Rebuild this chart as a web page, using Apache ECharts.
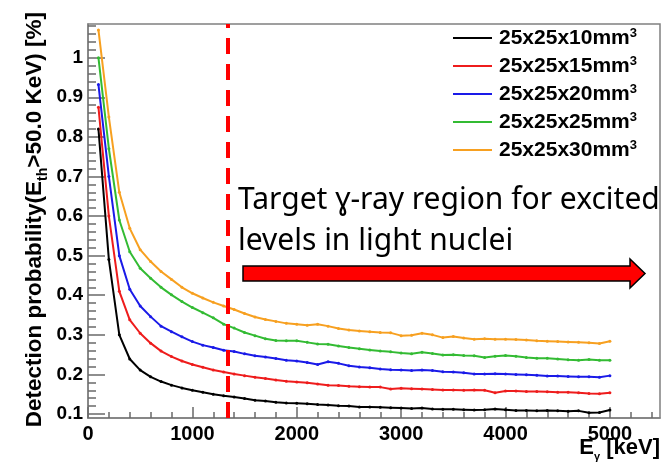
<!DOCTYPE html>
<html>
<head>
<meta charset="utf-8">
<script src="https://cdn.jsdelivr.net/npm/echarts@6/dist/echarts.min.js"></script>
<style>
  html, body { margin: 0; padding: 0; background: #fff; }
  #chart { width: 663px; height: 462px; }
</style>
</head>
<body>
<div id="chart"></div>
<script>
// gamma energies [keV]
let energies = [100, 200, 300, 400, 500, 600, 700, 800, 900, 1000,
    1100, 1200, 1300, 1400, 1500, 1600, 1700, 1800, 1900, 2000,
    2100, 2200, 2300, 2400, 2500, 2600, 2700, 2800, 2900, 3000,
    3100, 3200, 3300, 3400, 3500, 3600, 3700, 3800, 3900, 4000,
    4100, 4200, 4300, 4400, 4500, 4600, 4700, 4800, 4900, 5000];

let eff10 = [0.82, 0.49, 0.30, 0.239, 0.211, 0.194, 0.182, 0.173, 0.166, 0.160,
    0.155, 0.150, 0.146, 0.143, 0.139, 0.135, 0.133, 0.130, 0.128, 0.127,
    0.126, 0.124, 0.123, 0.121, 0.120, 0.118, 0.118, 0.117, 0.116, 0.115,
    0.114, 0.115, 0.113, 0.112, 0.112, 0.111, 0.110, 0.111, 0.113, 0.111,
    0.109, 0.109, 0.108, 0.109, 0.108, 0.107, 0.108, 0.103, 0.104, 0.110];

let eff15 = [0.875, 0.60, 0.41, 0.338, 0.304, 0.279, 0.259, 0.245, 0.234, 0.225,
    0.218, 0.211, 0.206, 0.201, 0.197, 0.193, 0.190, 0.186, 0.183, 0.181,
    0.179, 0.176, 0.173, 0.172, 0.170, 0.169, 0.168, 0.168, 0.163, 0.165,
    0.164, 0.163, 0.162, 0.161, 0.161, 0.160, 0.161, 0.160, 0.154, 0.158,
    0.158, 0.157, 0.157, 0.156, 0.155, 0.155, 0.154, 0.152, 0.151, 0.154];

let eff20 = [0.932, 0.70, 0.50, 0.415, 0.373, 0.346, 0.322, 0.308, 0.295, 0.283,
    0.274, 0.268, 0.261, 0.258, 0.252, 0.247, 0.244, 0.240, 0.236, 0.234,
    0.230, 0.225, 0.232, 0.228, 0.222, 0.219, 0.217, 0.214, 0.212, 0.211,
    0.210, 0.211, 0.210, 0.207, 0.206, 0.204, 0.201, 0.201, 0.202, 0.201,
    0.200, 0.199, 0.198, 0.196, 0.196, 0.195, 0.194, 0.194, 0.193, 0.197];

let eff25 = [1.0, 0.77, 0.59, 0.51, 0.468, 0.443, 0.420, 0.401, 0.384, 0.369,
    0.356, 0.343, 0.327, 0.317, 0.306, 0.298, 0.290, 0.286, 0.285, 0.285,
    0.281, 0.277, 0.276, 0.272, 0.268, 0.265, 0.262, 0.259, 0.257, 0.254,
    0.252, 0.256, 0.253, 0.249, 0.250, 0.248, 0.247, 0.243, 0.246, 0.248,
    0.246, 0.243, 0.241, 0.241, 0.239, 0.237, 0.236, 0.238, 0.236, 0.236];

let eff30 = [1.07, 0.85, 0.66, 0.569, 0.515, 0.485, 0.460, 0.440, 0.420, 0.405,
    0.393, 0.382, 0.373, 0.364, 0.354, 0.345, 0.339, 0.334, 0.329, 0.327,
    0.324, 0.327, 0.322, 0.316, 0.312, 0.310, 0.308, 0.306, 0.305, 0.298,
    0.299, 0.304, 0.300, 0.293, 0.296, 0.292, 0.289, 0.290, 0.289, 0.289,
    0.288, 0.287, 0.285, 0.284, 0.283, 0.282, 0.281, 0.280, 0.278, 0.284];

let seriesNames = ['25x25x10mm³', '25x25x15mm³', '25x25x20mm³', '25x25x25mm³', '25x25x30mm³'];
let seriesColors = ['#000000', '#ee1c1c', '#1a1ae8', '#33bb33', '#f7a020'];

let xTicks = [0, 1000, 2000, 3000, 4000, 5000];
let yTicks = [0.1, 0.2, 0.3, 0.4, 0.5, 0.6, 0.7, 0.8, 0.9, 1.0];
let threshold = 1340;   // dashed line, keV

let annotation = 'Target ɣ-ray region for excited\nlevels in light nuclei';

let xMin = 0, xMax = 5480, yMin = 0.09, yMax = 1.085;

// minor ticks (ROOT style, inside the frame)
let xMinor = [];
for (let v = 0; v <= 5400; v += 200) xMinor.push(v);
let yMinor = [];
for (let v = 10; v <= 108; v += 2) yMinor.push(v / 100);

let chart = echarts.init(document.getElementById('chart'));
let font = 'Liberation Sans, Arial, sans-serif';
let frame = '#808080';
let tickColor = '#6a6a6a';

let effs = [eff10, eff15, eff20, eff25, eff30];
let series = effs.map(function (eff, i) {
    // last series sits on the twin axes (same range) so those axes get drawn
    let twin = i === effs.length - 1 ? 1 : 0;
    return {
        name: seriesNames[i],
        type: 'line',
        xAxisIndex: twin,
        yAxisIndex: twin,
        data: energies.map(function (e, k) { return [e, eff[k]]; }),
        symbol: 'circle',
        symbolSize: 3,
        lineStyle: { width: 2, color: seriesColors[i] },
        itemStyle: { color: seriesColors[i] },
        z: 3 + i
    };
});
series[0].markLine = {
    silent: true,
    symbol: 'none',
    label: { show: false },
    lineStyle: { color: '#ff0000', width: 4, type: [16, 10] },
    data: [{ xAxis: threshold }],
    z: 10
};

let option = {
    animation: false,
    backgroundColor: '#ffffff',
    grid: {
        left: 88, right: 3, top: 24, bottom: 44,
        show: true, borderColor: frame, borderWidth: 1.5
    },
    legend: {
        orient: 'vertical',
        left: 453,
        top: 27,
        padding: 0,
        icon: 'rect',
        itemWidth: 39,
        itemHeight: 2,
        itemGap: 6.5,
        data: seriesNames,
        formatter: function (name) {
            return '{t|' + name.replace('³', '') + '}{sup|3}';
        },
        textStyle: {
            color: '#000',
            rich: {
                t: { fontFamily: font, fontWeight: 'bold', fontSize: 21, lineHeight: 22, padding: [0, 0, 0, 2] },
                sup: { fontFamily: font, fontWeight: 'bold', fontSize: 13, lineHeight: 13, verticalAlign: 'top' }
            }
        }
    },
    xAxis: [
        {
            type: 'value', min: xMin, max: xMax, position: 'bottom',
            axisLine: { show: true, lineStyle: { color: frame, width: 1.5 } },
            axisTick: { show: true, inside: true, length: 11, customValues: xTicks, lineStyle: { color: tickColor, width: 1.5 } },
            axisLabel: {
                customValues: xTicks, margin: 6,
                fontFamily: font, fontWeight: 'bold', fontSize: 20, color: '#000',
                formatter: function (v) { return String(v); }
            },
            splitLine: { show: false }
        },
        {
            type: 'value', min: xMin, max: xMax, position: 'bottom',
            axisLine: { show: false },
            axisTick: { show: true, inside: true, length: 6, customValues: xMinor, lineStyle: { color: tickColor, width: 1.5 } },
            axisLabel: { show: false },
            splitLine: { show: false }
        }
    ],
    yAxis: [
        {
            type: 'value', min: yMin, max: yMax, position: 'left',
            axisLine: { show: true, lineStyle: { color: frame, width: 1.5 } },
            axisTick: { show: true, inside: true, length: 17, customValues: yTicks, lineStyle: { color: tickColor, width: 1.5 } },
            axisLabel: {
                customValues: yTicks, margin: 5,
                fontFamily: font, fontWeight: 'bold', fontSize: 19, color: '#000',
                formatter: function (v) { return String(+v.toFixed(2)); }
            },
            splitLine: { show: false }
        },
        {
            type: 'value', min: yMin, max: yMax, position: 'left',
            axisLine: { show: false },
            axisTick: { show: true, inside: true, length: 8, customValues: yMinor, lineStyle: { color: tickColor, width: 1.5 } },
            axisLabel: { show: false },
            splitLine: { show: false }
        }
    ],
    graphic: [
        {
            type: 'text',
            x: 35, y: 12,
            rotation: Math.PI / 2,
            style: {
                text: '{a|Detection probability(E}{s|th}{a|>50.0 KeV) [%]}',
                align: 'right',
                verticalAlign: 'middle',
                fill: '#000',
                rich: {
                    a: { fontFamily: font, fontWeight: 'bold', fontSize: 22.5, lineHeight: 30 },
                    s: { fontFamily: font, fontWeight: 'bold', fontSize: 14, lineHeight: 14, verticalAlign: 'bottom' }
                }
            }
        },
        {
            type: 'text',
            right: 3, top: 437,
            style: {
                text: '{a|E}{s|γ}{a| [keV]}',
                fill: '#000',
                rich: {
                    a: { fontFamily: font, fontWeight: 'bold', fontSize: 22, lineHeight: 28 },
                    s: { fontFamily: font, fontWeight: 'bold', fontSize: 11, lineHeight: 11, verticalAlign: 'bottom' }
                }
            }
        },
        {
            type: 'text',
            x: 238, y: 180,
            z: 20,
            style: {
                text: annotation,
                fontFamily: 'Noto Sans, DejaVu Sans, sans-serif',
                fontSize: 30,
                lineHeight: 41,
                fill: '#000',
                align: 'left',
                verticalAlign: 'top'
            }
        },
        {
            type: 'polygon',
            z: 20,
            shape: {
                points: [[243, 266], [630, 266], [630, 259], [645, 273.5], [630, 288], [630, 281], [243, 281]]
            },
            style: { fill: '#ff0000', stroke: '#000', lineWidth: 1.5 }
        }
    ],
    series: series
};
chart.setOption(option);
</script>
</body>
</html>
